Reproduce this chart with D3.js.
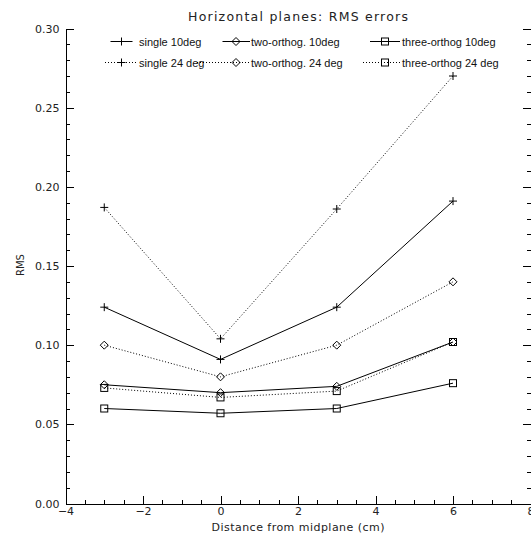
<!DOCTYPE html>
<html>
<head>
<meta charset="utf-8">
<script src="https://cdn.jsdelivr.net/npm/d3@7"></script>
<style>
  body { margin: 0; background: #fff; }
  svg { display: block; }
  .hershey { font-family: "DejaVu Sans", sans-serif; fill: #222; }
  .leg { font-family: "Liberation Sans", Arial, sans-serif; font-size: 11px; fill: #111; }
  .axis path, .axis line { stroke: #000; stroke-width: 1; shape-rendering: crispEdges; }
  .axis text { font-family: "DejaVu Sans", sans-serif; font-size: 11px; fill: #222; }
</style>
</head>
<body>
<svg width="531" height="534"></svg>
<script>
// data
var distances = [-3, 0, 3, 6]
var series_names = ["single 10deg", "single 24 deg", "two-orthog. 10deg",
                    "two-orthog. 24 deg", "three-orthog  10deg", "three-orthog 24 deg"]
var single_10 = [0.124, 0.091, 0.124, 0.191]
var single_24 = [0.187, 0.104, 0.186, 0.270]
var two_10 = [0.075, 0.070, 0.074, 0.102]
var two_24 = [0.100, 0.080, 0.100, 0.140]
var three_10 = [0.060, 0.057, 0.060, 0.076]
var three_24 = [0.073, 0.067, 0.071, 0.102]
var x_ticks = [-4, -2, 0, 2, 4, 6, 8]
var y_ticks = [0, 0.05, 0.10, 0.15, 0.20, 0.25, 0.30]

var series = [
  {name: series_names[0], values: single_10, sym: "plus", dotted: false},
  {name: series_names[1], values: single_24, sym: "plus", dotted: true},
  {name: series_names[2], values: two_10, sym: "diamond", dotted: false},
  {name: series_names[3], values: two_24, sym: "diamond", dotted: true},
  {name: series_names[4], values: three_10, sym: "square", dotted: false},
  {name: series_names[5], values: three_24, sym: "square", dotted: true}
]

/**********
*layout
**********/
var svg = d3.select("svg")
var x = d3.scaleLinear().domain([-4, 8]).range([65.5, 530.5])
var y = d3.scaleLinear().domain([0, 0.30]).range([503.5, 28.5])

function draw_symbol(g, sym, cx, cy){
  if (sym == "plus"){
    g.append("path").attr("d", "M"+(cx-4)+","+cy+"H"+(cx+4)+"M"+cx+","+(cy-4)+"V"+(cy+4))
  } else if (sym == "diamond"){
    g.append("path").attr("d", "M"+cx+","+(cy-4)+"L"+(cx+4)+","+cy+"L"+cx+","+(cy+4)+"L"+(cx-4)+","+cy+"Z")
  } else {
    g.append("rect").attr("x", cx-3.5).attr("y", cy-3.5).attr("width", 7).attr("height", 7)
  }
}

/**********
*axes
**********/
var minor_y = d3.range(0, 31).map(d => d/100)
var minor_x = d3.range(-8, 17).map(d => d/2)

svg.append("g").attr("class","axis").attr("transform","translate(65.5,0)")
  .call(d3.axisLeft(y).tickValues(minor_y).tickSizeInner(-4).tickSizeOuter(0).tickFormat(""))
svg.append("g").attr("class","axis").attr("transform","translate(65.5,0)")
  .call(d3.axisLeft(y).tickValues(y_ticks).tickSizeInner(-8).tickSizeOuter(0).tickPadding(6).tickFormat(d3.format(".2f")))

svg.append("g").attr("class","axis").attr("transform","translate(530.5,0)")
  .call(d3.axisRight(y).tickValues(minor_y).tickSizeInner(-4).tickSizeOuter(0).tickFormat(""))
svg.append("g").attr("class","axis").attr("transform","translate(530.5,0)")
  .call(d3.axisRight(y).tickValues(y_ticks).tickSizeInner(-8).tickSizeOuter(0).tickFormat(""))

svg.append("g").attr("class","axis").attr("transform","translate(0,503.5)")
  .call(d3.axisBottom(x).tickValues(minor_x).tickSizeInner(-4).tickSizeOuter(0).tickFormat(""))
svg.append("g").attr("class","axis").attr("transform","translate(0,503.5)")
  .call(d3.axisBottom(x).tickValues(x_ticks).tickSizeInner(-8).tickSizeOuter(0).tickPadding(4)
        .tickFormat(d => d < 0 ? "\u2212" + Math.abs(d) : d))

svg.append("text").attr("class","hershey").attr("x", 298).attr("y", 21)
  .attr("text-anchor","middle").attr("font-size", 12.5)
  .attr("textLength", 220).attr("lengthAdjust","spacing")
  .text("Horizontal planes: RMS errors")

svg.append("text").attr("class","hershey").attr("x", 298).attr("y", 531)
  .attr("text-anchor","middle").attr("font-size", 11)
  .attr("textLength", 173).attr("lengthAdjust","spacing")
  .text("Distance from midplane (cm)")

svg.append("text").attr("class","hershey")
  .attr("transform","translate(24,265) rotate(-90)")
  .attr("text-anchor","middle").attr("font-size", 10)
  .text("RMS")

/**********
*series
**********/
var line = d3.line().x((d, i) => x(distances[i])).y(d => y(d))

var c_series = svg.selectAll(".serie").data(series).enter()
  .append("g").attr("class","serie")
  .attr("fill","none").attr("stroke","#000").attr("stroke-width",1)

c_series.append("path")
  .attr("d", d => line(d.values))
  .attr("stroke-dasharray", d => d.dotted ? "1,2" : null)

c_series.each(function(d){
  var g = d3.select(this)
  d.values.forEach(function(v, i){ draw_symbol(g, d.sym, x(distances[i]), y(v)) })
})

/**********
*legend
**********/
var leg_mark = [121.5, 236, 385]
var leg_text = [139, 251, 402]
var leg_solid = [[110.5, 132.5], [222.5, 250], [370, 400]]
var leg_dot = [[105, 136], [197, 250], [363, 400]]
var leg_row = [41.5, 62.5]

series.forEach(function(s, k){
  var col = Math.floor(k/2), row = k % 2
  var g = svg.append("g").attr("fill","none").attr("stroke","#000").attr("stroke-width",1)
  var seg = s.dotted ? leg_dot[col] : leg_solid[col]
  g.append("line").attr("x1", seg[0]).attr("x2", seg[1])
    .attr("y1", leg_row[row]).attr("y2", leg_row[row])
    .attr("stroke-dasharray", s.dotted ? "1,2" : null)
  draw_symbol(g, s.sym, leg_mark[col], leg_row[row])
  svg.append("text").attr("class","leg").attr("x", leg_text[col]).attr("y", leg_row[row] + 4)
    .text(s.name)
})
</script>
</body>
</html>
